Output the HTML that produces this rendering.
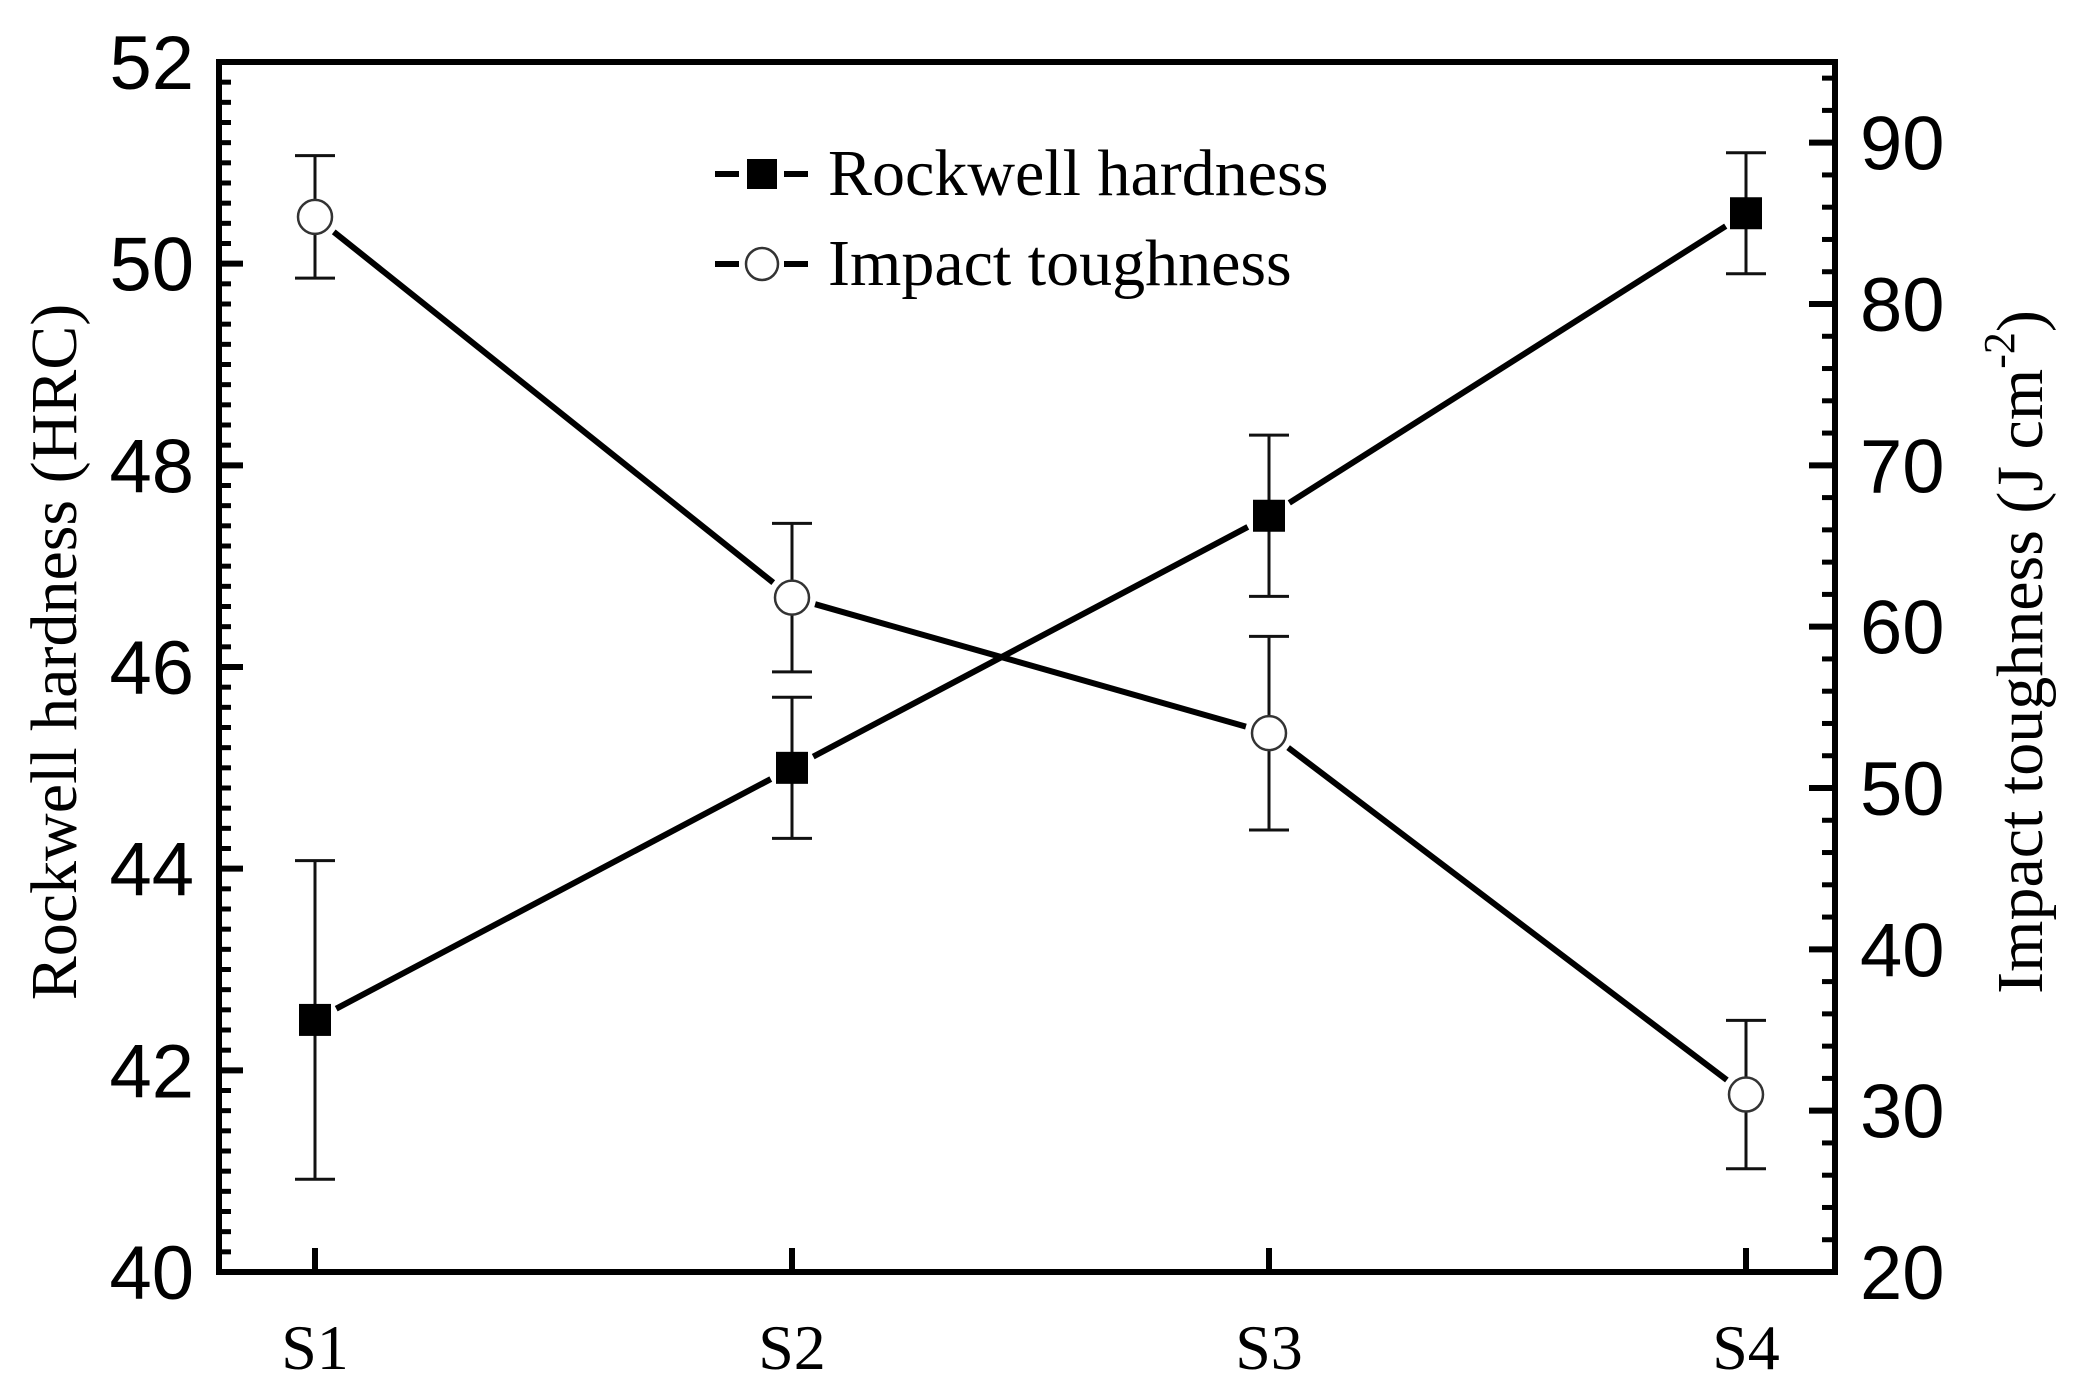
<!DOCTYPE html>
<html><head><meta charset="utf-8"><style>
html,body{margin:0;padding:0;background:#fff;}
svg{display:block;}
</style></head><body>
<svg id="chart" width="2078" height="1394" viewBox="0 0 2078 1394" xmlns="http://www.w3.org/2000/svg">
<g id="axes"></g>
<g id="marks"></g>
<g>
 <line x1="715" y1="174" x2="808" y2="174" stroke="#000" stroke-width="6" stroke-dasharray="24 45"/>
 <rect x="747" y="159" width="30" height="30" fill="#000"/>
 <text x="828" y="195" font-family="Liberation Serif, serif" font-size="66">Rockwell hardness</text>
 <line x1="715" y1="264" x2="808" y2="264" stroke="#000" stroke-width="6" stroke-dasharray="24 45"/>
 <circle cx="762" cy="264" r="16" fill="#fff" stroke="#333" stroke-width="2.5"/>
 <text x="828" y="285" font-family="Liberation Serif, serif" font-size="66">Impact toughness</text>
</g>
<text transform="translate(76,652) rotate(-90)" text-anchor="middle" font-family="Liberation Serif, serif" font-size="66">Rockwell hardness (HRC)</text>
<text transform="translate(2042,652) rotate(-90)" text-anchor="middle" font-family="Liberation Serif, serif" font-size="66">Impact toughness (J cm<tspan dy="-28" font-size="44">-2</tspan><tspan dy="28">)</tspan></text>
</svg>
<script>
const categories = ["S1","S2","S3","S4"];
const hardness = [42.5, 45.0, 47.5, 50.5];
const hardnessErr = [1.58, 0.7, 0.8, 0.6];
const toughness = [85.4, 61.8, 53.4, 31.0];
const toughnessErr = [3.8, 4.6, 6.0, 4.6];
const leftTicks = [40,42,44,46,48,50,52];
const rightTicks = [20,30,40,50,60,70,80,90];

const NS="http://www.w3.org/2000/svg";
const L=219,R=1835,T=62,B=1272;
const xPos=i=>315+i*477;
const yL=v=>B-(v-40)/12*(B-T);
const yR=v=>B-(v-20)/75*(B-T);
function mk(tag,attrs,parent){const e=document.createElementNS(NS,tag);for(const k in attrs)e.setAttribute(k,attrs[k]);parent.appendChild(e);return e;}
const ax=document.getElementById('axes'), mg=document.getElementById('marks');
const frame=mk('rect',{x:L,y:T,width:R-L,height:B-T,fill:'none',stroke:'#000','stroke-width':6},ax);


for(let v=40;v<=52.001;v+=0.2){const y=yL(v);const major=Math.abs(v-Math.round(v/2)*2)<0.01;
 const t=mk('line',{x1:L,y1:y,x2:L+(major?24:12),y2:y,stroke:'#000','stroke-width':major?6:5},ax);
 
 }
leftTicks.forEach(v=>{const t=mk('text',{x:194,y:yL(v)+27,'text-anchor':'end','font-family':'Liberation Sans, sans-serif','font-size':76},ax);t.textContent=v;
 
 });
for(let v=20;v<=95;v+=2){const y=yR(v);const major=v%10===0;
 const t=mk('line',{x1:R,y1:y,x2:R-(major?26:13),y2:y,stroke:'#000','stroke-width':major?6:5},ax);
 
 }
rightTicks.forEach(v=>{const t=mk('text',{x:1860,y:yR(v)+27,'font-family':'Liberation Sans, sans-serif','font-size':76},ax);t.textContent=v;
 
 });
categories.forEach((c,i)=>{const x=xPos(i);
 const t=mk('line',{x1:x,y1:B,x2:x,y2:B-24,stroke:'#000','stroke-width':6},ax);
 
 
 const l=mk('text',{x:x,y:1369,'text-anchor':'middle','font-family':'Liberation Serif, serif','font-size':64},ax);l.textContent=c;
 
 });
function series(vals,errs,yf,name,circle){
 for(let i=0;i<vals.length-1;i++){const x1=xPos(i),y1=yf(vals[i]),x2=xPos(i+1),y2=yf(vals[i+1]);
  const dx=x2-x1,dy=y2-y1,len=Math.hypot(dx,dy),g=24;
  const s=mk('line',{x1:x1+dx/len*g,y1:y1+dy/len*g,x2:x2-dx/len*g,y2:y2-dy/len*g,stroke:'#000','stroke-width':6},mg);
  
  }
 vals.forEach((v,i)=>{const x=xPos(i),y=yf(v),yt=yf(v+errs[i]),yb=yf(v-errs[i]);
  const e=mk('path',{d:`M${x},${yt}V${yb}M${x-20},${yt}H${x+20}M${x-20},${yb}H${x+20}`,stroke:'#111','stroke-width':3,fill:'none'},mg);
  
  
  let m;
  if(circle) m=mk('circle',{cx:x,cy:y,r:17,fill:'#fff',stroke:'#333','stroke-width':2.5},mg);
  else m=mk('rect',{x:x-16,y:y-16,width:32,height:32,fill:'#000'},mg);
  
  });
}
series(hardness,hardnessErr,yL,'hardness',false);
series(toughness,toughnessErr,yR,'toughness',true);
</script>
</body></html>
